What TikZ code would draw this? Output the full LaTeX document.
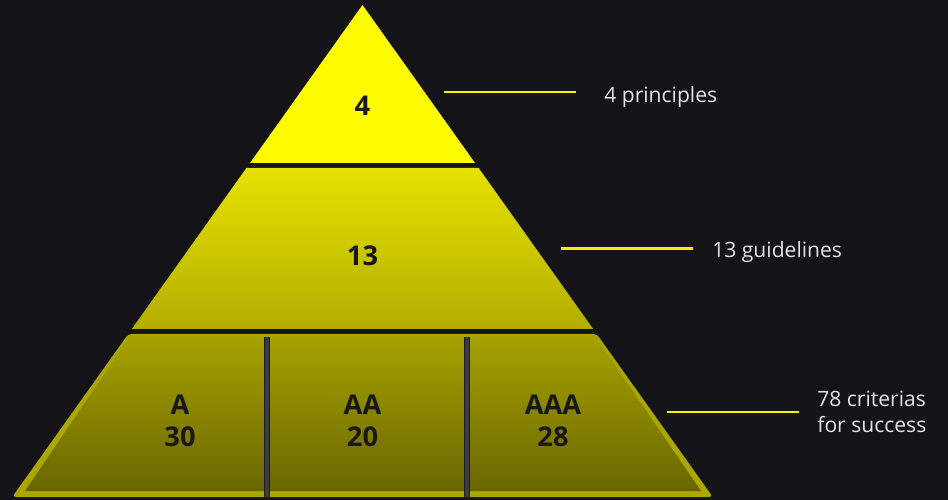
\documentclass[tikz,border=0pt]{standalone}
\usepackage{fontspec}
\setmainfont{Open Sans}
\definecolor{bg}{HTML}{131318}
\definecolor{ink}{HTML}{18181A}
\definecolor{labelgray}{HTML}{E4E4E4}
\definecolor{leadyellow}{HTML}{F4F000}
\definecolor{topyellow}{HTML}{FFFC00}
\definecolor{midtop}{HTML}{E6E100}
\definecolor{midbottom}{HTML}{B3AE00}
\definecolor{rim}{HTML}{ABA700}
\definecolor{lowtop}{HTML}{A6A200}
\definecolor{lowbottom}{HTML}{6A6600}
\definecolor{barDark}{HTML}{1C1C20}
\definecolor{barGray}{HTML}{3C3C40}
\tikzset{
  tiernum/.style={font=\bfseries\fontsize{15.5}{18.2}\selectfont, text=ink, inner sep=0pt, align=center},
  sidelabel/.style={font=\fontsize{12}{14.8}\selectfont, text=labelgray, inner sep=0pt, align=left},
  lead/.style={draw=leadyellow, line width=1.15pt},
  divider/.style={draw=barDark, double=barGray, double distance=2.2pt, line width=0.4pt}
}
\begin{document}
\begin{tikzpicture}[x=0.02cm,y=-0.02cm]
\fill[bg] (0,0) rectangle (948,500);
% top tier
\fill[topyellow] (362.5,5) -- (475,163) -- (250,163) -- cycle;
% middle tier
\shade[top color=midtop, bottom color=midbottom] (246.4,168) -- (478.6,168) -- (593.2,329) -- (131.8,329) -- cycle;
% bottom tier: rim, then the shaded inside
\fill[rim, rounded corners=2pt] (128.3,334) -- (596.7,334) -- (712.8,497) -- (12.2,497) -- cycle;
\shade[top color=lowtop, bottom color=lowbottom] (130,336) -- (595,336) -- (701,491) -- (25,491) -- cycle;
\draw[divider] (267,337) -- (267,497);
\draw[divider] (467,337) -- (467,497);

\node[tiernum, anchor=base] (n4) at (362.5,115.5) {4};
\node[tiernum, anchor=base] (n13) at (362.5,266) {13};
\node[tiernum] (lvA) at (180,421) {A\\30};
\node[tiernum] (lvAA) at (362.5,421) {AA\\20};
\node[tiernum] (lvAAA) at (553,421) {AAA\\28};

% leads to the labels
\coordinate (p1a) at (444,92);
\coordinate (p1b) at (576,92);
\coordinate (p2a) at (561,248.5);
\coordinate (p2b) at (693,248.5);
\coordinate (p3a) at (667,412);
\coordinate (p3b) at (799,412);
\draw[lead] (p1a) -- (p1b);
\draw[lead] (p2a) -- (p2b);
\draw[lead] (p3a) -- (p3b);
\node[sidelabel, anchor=base west] (lab1) at (604,102.7) {4 principles};
\node[sidelabel, anchor=base west] (lab2) at (712,257) {13 guidelines};
\node[sidelabel, anchor=west] (lab3) at (817,412) {78 criterias\\for success};
\end{tikzpicture}
\end{document}
